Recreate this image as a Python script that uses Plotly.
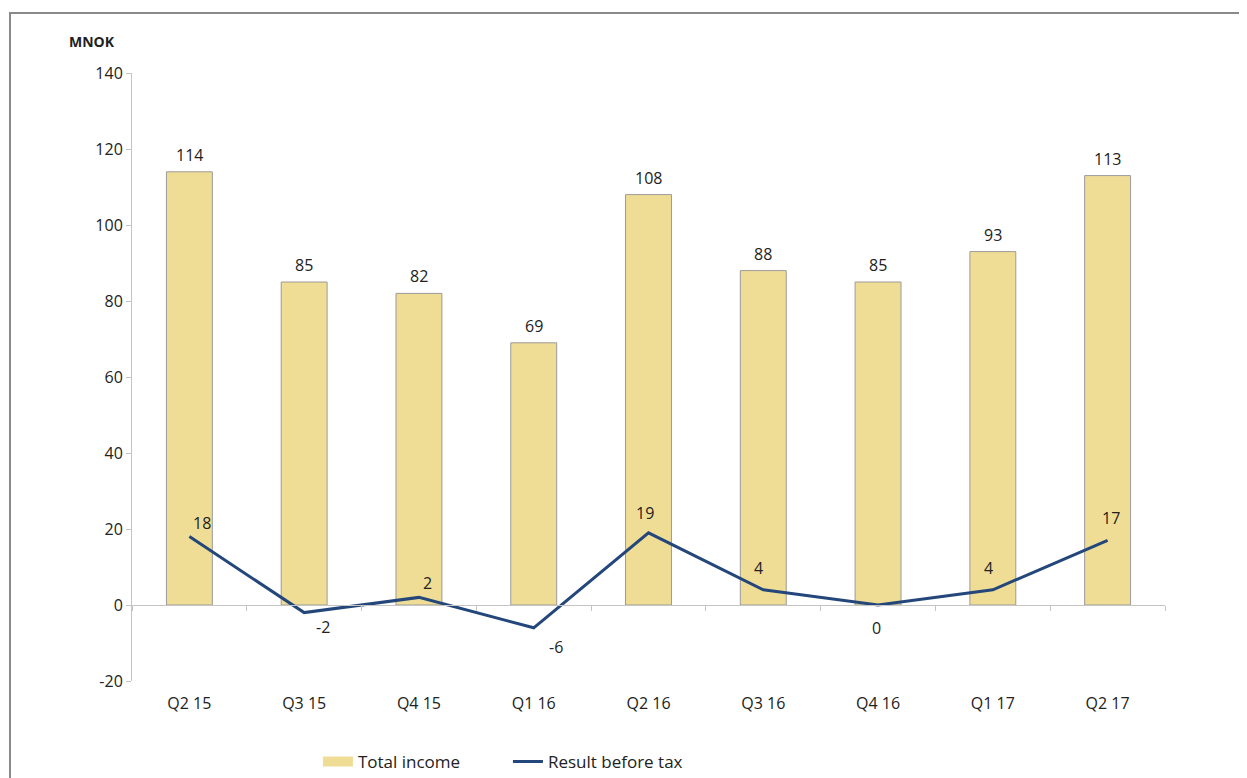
import plotly.graph_objects as go

# quarters and values (MNOK)
quarters = ["Q2 15", "Q3 15", "Q4 15", "Q1 16", "Q2 16", "Q3 16", "Q4 16", "Q1 17", "Q2 17"]
total_income = [114, 85, 82, 69, 108, 88, 85, 93, 113]
result_before_tax = [18, -2, 2, -6, 19, 4, 0, 4, 17]
y_ticks = [-20, 0, 20, 40, 60, 80, 100, 120, 140]
y_tick_text = ["-20", "0", "20", "40", "60", "80", "100", "120", "140"]

# label offsets (px) for the line labels, Excel-style placement
line_lbl_dx = [13, 19, 9, 22, -4, -5, -2, -4, 3]
line_lbl_dy = [14, -14, 14, -19, 20, 22, -23, 22, 22]

FONT = "Open Sans"
TXT = "#222222"
AXIS = "#c4c4c4"
y_min, y_max = -20, 140

fig = go.Figure()

fig.add_trace(go.Bar(
    x=quarters, y=total_income,
    name="Total income", showlegend=False,
    marker=dict(color="#f0dd95", line=dict(color="#9a9a9a", width=1)),
    width=0.4,
))

fig.add_trace(go.Scatter(
    x=quarters, y=result_before_tax,
    name="Result before tax", showlegend=False,
    mode="lines",
    line=dict(color="#24477b", width=3),
    xaxis="x2",
    cliponaxis=False,
))

# legend entries (wide swatches like the original)
fig.add_trace(go.Scatter(x=[None], y=[None], mode="lines", name="Total income",
                         line=dict(color="#f0dd95", width=10)))
fig.add_trace(go.Scatter(x=[None], y=[None], mode="lines", name="Result before tax",
                         line=dict(color="#24477b", width=3)))

annotations = []
for q, v in zip(quarters, total_income):
    annotations.append(dict(x=q, y=v, text=str(v), showarrow=False,
                            xanchor="center", yanchor="middle", yshift=17,
                            font=dict(family=FONT, size=16, color=TXT)))
for q, v, dx, dy in zip(quarters, result_before_tax, line_lbl_dx, line_lbl_dy):
    annotations.append(dict(x=q, y=v, text=str(v), showarrow=False,
                            xanchor="center", yanchor="middle", xshift=dx, yshift=dy,
                            font=dict(family=FONT, size=16, color=TXT)))
annotations.append(dict(text="<b>MNOK</b>", xref="paper", yref="paper",
                        x=-0.0387, y=1.051, xanchor="center", yanchor="middle",
                        showarrow=False, font=dict(family=FONT, size=14, color=TXT)))

zero_pos = (0 - y_min) / (y_max - y_min)

fig.update_layout(
    width=1239, height=770,
    paper_bgcolor="white", plot_bgcolor="white",
    margin=dict(l=124, r=82, t=65, b=97, autoexpand=False),
    font=dict(family=FONT, size=16, color=TXT),
    showlegend=True,
    legend=dict(orientation="h", x=0.18, y=0.021, xref="paper", yref="container",
                xanchor="left", yanchor="middle",
                font=dict(family=FONT, size=17, color=TXT), entrywidth=145,
                traceorder="normal", bgcolor="rgba(0,0,0,0)"),
    xaxis=dict(type="category", categoryarray=quarters, range=[-0.5, 8.5],
               showline=False, showgrid=False, ticks="", zeroline=False,
               ticklabelstandoff=11,
               tickfont=dict(family=FONT, size=16, color=TXT)),
    xaxis2=dict(type="category", categoryarray=quarters, range=[-0.5, 8.5],
                overlaying="x", anchor="free", position=zero_pos,
                showline=True, linecolor=AXIS, linewidth=1,
                ticks="outside", tickson="boundaries", ticklen=5, tickcolor=AXIS,
                showticklabels=False, showgrid=False, zeroline=False),
    yaxis=dict(range=[y_min, y_max], tickmode="array", tickvals=y_ticks, ticktext=y_tick_text,
               showgrid=False, zeroline=False,
               showline=True, linecolor=AXIS, linewidth=1,
               ticks="outside", ticklen=5, tickcolor=AXIS,
               tickfont=dict(family=FONT, size=16, color=TXT)),
    annotations=annotations,
    shapes=[dict(type="rect", xref="paper", yref="paper",
                 x0=-0.1181, x1=1.2, y0=-0.3, y1=1.0987,
                 line=dict(color="#8a8a8a", width=2), fillcolor="rgba(0,0,0,0)",
                 layer="below")],
)

fig.write_html("out.html")
